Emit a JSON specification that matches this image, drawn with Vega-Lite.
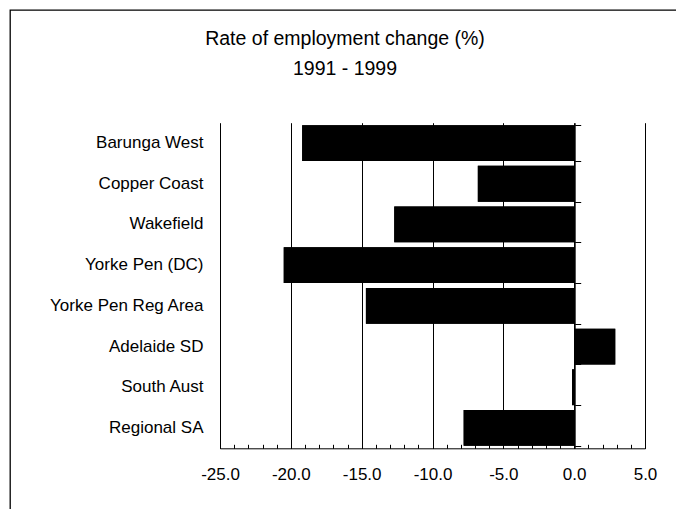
{
  "$schema": "https://vega.github.io/schema/vega-lite/v6.json",
  "autosize": "none",
  "padding": {"left": 10, "top": 10, "right": 0, "bottom": 0},
  "width": 670,
  "height": 505,
  "background": "white",
  "title": {
    "text": ["Rate of employment change (%)", "1991 - 1999"],
    "anchor": "middle",
    "frame": "group",
    "font": "Liberation Sans",
    "fontSize": 19.5,
    "fontWeight": "normal",
    "color": "black",
    "lineHeight": 30,
    "offset": -84,
    "baseline": "alphabetic"
  },
  "config": {
    "view": {"stroke": "black", "strokeWidth": 1.3},
    "axis": {
      "labelFont": "Liberation Sans",
      "labelFontSize": 17,
      "labelColor": "black",
      "domainColor": "black",
      "tickColor": "black",
      "gridColor": "black",
      "gridOpacity": 1,
      "gridWidth": 1,
      "domainWidth": 1,
      "tickWidth": 1
    }
  },
  "data": {
    "values": [
      {"region": "Barunga West", "change": -19.2},
      {"region": "Copper Coast", "change": -6.8},
      {"region": "Wakefield", "change": -12.7},
      {"region": "Yorke Pen (DC)", "change": -20.5},
      {"region": "Yorke Pen Reg Area", "change": -14.7},
      {"region": "Adelaide SD", "change": 2.9},
      {"region": "South Aust", "change": -0.15},
      {"region": "Regional SA", "change": -7.8}
    ]
  },
  "layer": [
    {
      "mark": {"type": "bar", "color": "black"},
      "encoding": {
        "x": {
          "field": "change",
          "type": "quantitative",
          "scale": {"domain": [-25, 5], "range": [210, 635], "nice": false, "zero": false},
          "axis": {
            "orient": "bottom",
            "offset": -66.7,
            "values": [-25, -24, -23, -22, -21, -20, -19, -18, -17, -16, -15, -14, -13, -12, -11, -10, -9, -8, -7, -6, -5, -4, -3, -2, -1, 0, 1, 2, 3, 4, 5],
            "grid": false,
            "tickSize": -4,
            "labelExpr": "datum.value % 5 === 0 ? (datum.value < 0 ? '-' : '') + format(abs(datum.value), '.1f') : ''",
            "labelPadding": 22,
            "labelFlush": false,
            "labelOverlap": false,
            "title": null
          }
        },
        "y": {
          "field": "region",
          "type": "nominal",
          "sort": null,
          "scale": {"range": [112.7, 438.3], "paddingInner": 0.12, "paddingOuter": 0.06},
          "axis": {
            "orient": "left",
            "offset": -210,
            "domain": false,
            "ticks": false,
            "tickSize": 0,
            "labelPadding": 17,
            "grid": false,
            "title": null
          }
        }
      }
    },
    {
      "mark": {"type": "bar", "color": "black"},
      "encoding": {
        "x": {
          "field": "change",
          "type": "quantitative",
          "axis": {
            "orient": "top",
            "grid": true,
            "values": [-25, -20, -15, -10, -5, 0, 5],
            "labels": false,
            "ticks": false,
            "domain": false,
            "title": null
          }
        },
        "y": {
          "field": "region",
          "type": "nominal",
          "sort": null,
          "axis": {
            "orient": "right",
            "offset": -105.3,
            "labels": false,
            "ticks": true,
            "tickSize": 6,
            "tickBand": "extent",
            "domain": true,
            "grid": false,
            "title": null
          }
        }
      }
    }
  ]
}
